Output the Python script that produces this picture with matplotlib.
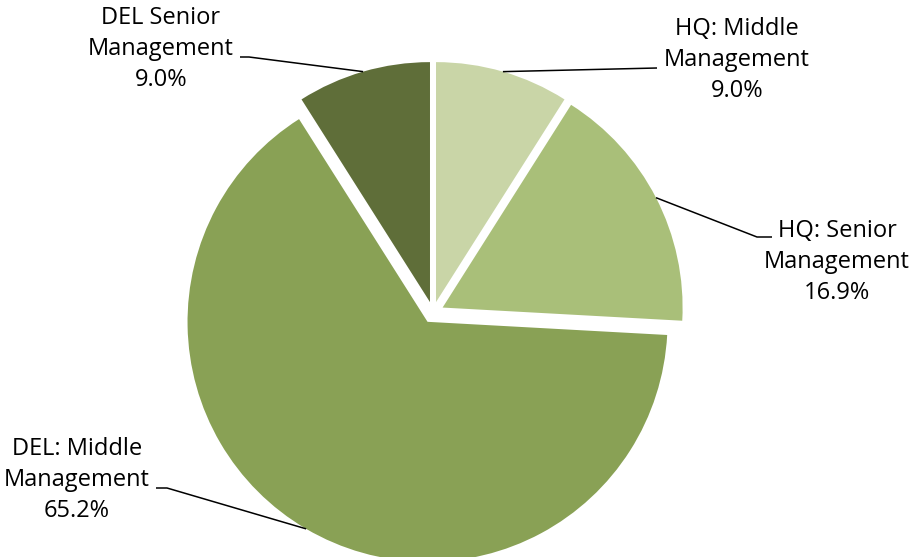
"""
Figure: management share pie (HQ / DEL)
"""
import math

import matplotlib
matplotlib.use("Agg")
import matplotlib.pyplot as plt

# --------------------------------------------------------------------------------
# data
# --------------------------------------------------------------------------------
CATEGORIES = ["HQ: Middle\nManagement", "HQ: Senior\nManagement",
              "DEL: Middle\nManagement", "DEL Senior\nManagement"]
SHARES = [9.0, 16.9, 65.2, 9.0]
COLORS = ["#C9D5A7", "#A9BF79", "#89A155", "#5F6E39"]

# --------------------------------------------------------------------------------
# layout (pixels, image coords from top-left)
# --------------------------------------------------------------------------------
FIG_W, FIG_H = 914, 557
PIE_CX, PIE_CY, PIE_R = 433, 312.5, 240
EXPLODE = 0.045
FONT = "Open Sans"
FONT_SIZE = 17

# text centre and leader path (text end first, anchor on wedge appended)
LABEL_POS = [(737, 60), (837, 262), (77, 480), (161, 49)]
LEADER_PATH = [[(657, 68)],
               [(772, 237), (757, 237)],
               [(156, 488), (167, 488)],
               [(240, 57), (249, 57)]]


def px(x, y):
    # image pixel -> data units (pie radius = 1)
    return (x - PIE_CX) / PIE_R, (PIE_CY - y) / PIE_R


def main_function():
    fig = plt.figure(figsize=(FIG_W / 100, FIG_H / 100), dpi=100, facecolor="w")
    ax = fig.add_axes([0, 0, 1, 1])
    ax.set_axis_off()

    wedges, _ = ax.pie(SHARES, colors=COLORS, startangle=90, counterclock=False,
                       explode=[EXPLODE] * len(SHARES), radius=1.0,
                       wedgeprops={"linewidth": 0})

    x0, y1 = px(0, 0)
    x1, y0 = px(FIG_W, FIG_H)
    ax.set_xlim(x0, x1)
    ax.set_ylim(y0, y1)
    ax.set_aspect("equal")

    for w, cat, val, pos, path in zip(wedges, CATEGORIES, SHARES, LABEL_POS, LEADER_PATH):
        # anchor at the wedge bisector on its arc
        mid = math.radians(0.5 * (w.theta1 + w.theta2))
        ax_x = w.center[0] + w.r * math.cos(mid)
        ax_y = w.center[1] + w.r * math.sin(mid)
        pts = [px(*p) for p in path] + [(ax_x, ax_y)]
        ax.plot([p[0] for p in pts], [p[1] for p in pts], color="black",
                linewidth=1.1, solid_capstyle="butt")

        tx, ty = px(*pos)
        ax.text(tx, ty, "{0}\n{1:.1f}%".format(cat, val), ha="center", va="center",
                multialignment="center", fontsize=FONT_SIZE, family=FONT,
                color="black", linespacing=1.4)

    plt.savefig("out.png", dpi=100, facecolor="w")
    plt.close()


if __name__ == '__main__':
    main_function()
